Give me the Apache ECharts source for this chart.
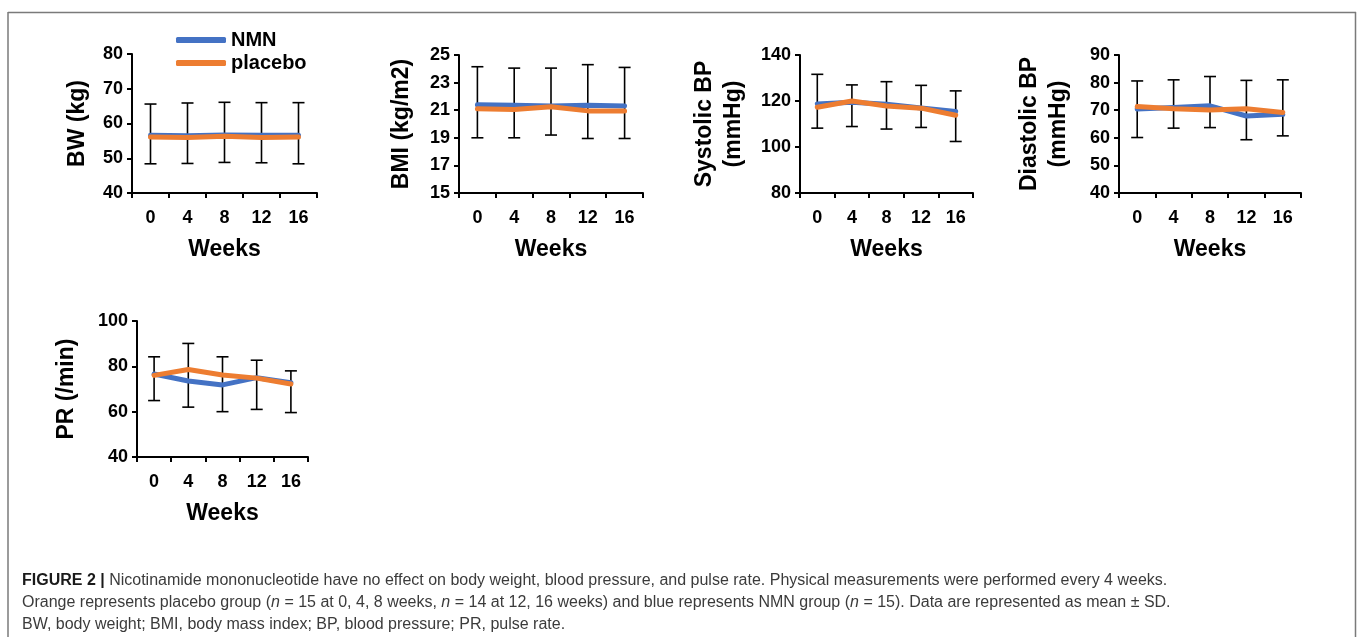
<!DOCTYPE html>
<html><head><meta charset="utf-8">
<script src="https://cdn.jsdelivr.net/npm/echarts@6/dist/echarts.min.js"></script>
<style>html,body{margin:0;padding:0;background:#fff}#c{width:1357px;height:637px}</style>
</head><body><div id="c"></div>
<script>
// ---------- data ----------
const weeks = ['0', '4', '8', '12', '16'];
const groupNames = ['NMN', 'placebo'];

const bwNMN = [56.6, 56.5, 56.7, 56.6, 56.6];
const bwPlacebo = [56.1, 56.0, 56.3, 56.0, 56.1];
const bwLow = [48.4, 48.5, 48.8, 48.7, 48.4];
const bwHigh = [65.6, 65.9, 66.1, 66.0, 66.0];
const bwTicks = [40, 50, 60, 70, 80];

const bmiNMN = [21.4, 21.35, 21.3, 21.35, 21.3];
const bmiPlacebo = [21.1, 21.05, 21.25, 20.95, 20.95];
const bmiLow = [19.0, 19.0, 19.2, 18.95, 18.95];
const bmiHigh = [24.15, 24.05, 24.05, 24.3, 24.1];
const bmiTicks = [15, 17, 19, 21, 23, 25];

const sbpNMN = [118.7, 119.5, 118.6, 117.0, 115.4];
const sbpPlacebo = [117.3, 120.0, 117.8, 116.9, 113.8];
const sbpLow = [108.2, 108.9, 107.8, 108.5, 102.4];
const sbpHigh = [131.6, 127.0, 128.4, 126.8, 124.4];
const sbpTicks = [80, 100, 120, 140];

const dbpNMN = [70.4, 71.0, 71.6, 67.9, 68.5];
const dbpPlacebo = [71.3, 70.5, 70.1, 70.5, 69.2];
const dbpLow = [60.1, 63.5, 63.7, 59.3, 60.7];
const dbpHigh = [80.6, 81.0, 82.2, 80.8, 81.0];
const dbpTicks = [40, 50, 60, 70, 80, 90];

const prNMN = [76.6, 73.5, 71.8, 75.0, 72.8];
const prPlacebo = [76.0, 78.6, 76.2, 74.8, 72.2];
const prLow = [64.9, 62.0, 60.0, 61.0, 59.6];
const prHigh = [84.2, 90.1, 84.2, 82.7, 78.0];
const prTicks = [40, 60, 80, 100];

const yTitles = ['BW (kg)', 'BMI (kg/m2)', 'Systolic BP\n(mmHg)', 'Diastolic BP\n(mmHg)', 'PR (/min)'];
const xTitle = 'Weeks';

const captionLines = [
  '{b|FIGURE 2 |} Nicotinamide mononucleotide have no effect on body weight, blood pressure, and pulse rate. Physical measurements were performed every 4 weeks.',
  'Orange represents placebo group ({i|n} = 15 at 0, 4, 8 weeks, {i|n} = 14 at 12, 16 weeks) and blue represents NMN group ({i|n} = 15). Data are represented as mean \u00b1 SD.',
  'BW, body weight; BMI, body mass index; BP, blood pressure; PR, pulse rate.'
];

// ---------- layout ----------
const FONT = '"Liberation Sans", Arial, sans-serif';
const panels = [
  {nmn: bwNMN, pla: bwPlacebo, lo: bwLow, hi: bwHigh, ticks: bwTicks, grid: {left: 132, top: 54, width: 185, height: 139}, nameGap: 40},
  {nmn: bmiNMN, pla: bmiPlacebo, lo: bmiLow, hi: bmiHigh, ticks: bmiTicks, grid: {left: 459, top: 55, width: 184, height: 138}, nameGap: 43},
  {nmn: sbpNMN, pla: sbpPlacebo, lo: sbpLow, hi: sbpHigh, ticks: sbpTicks, grid: {left: 800, top: 55, width: 173, height: 138}, nameGap: 52},
  {nmn: dbpNMN, pla: dbpPlacebo, lo: dbpLow, hi: dbpHigh, ticks: dbpTicks, grid: {left: 1119, top: 55, width: 182, height: 138}, nameGap: 46},
  {nmn: prNMN, pla: prPlacebo, lo: prLow, hi: prHigh, ticks: prTicks, grid: {left: 137, top: 321, width: 171, height: 136}, nameGap: 56}
];

const colors = ['#4472C4', '#ED7D31'];
const grids = [], xAxes = [], yAxes = [], series = [];

function errorBar(params, api) {
  const i = api.value(0);
  const pHi = api.coord([i, api.value(2)]);
  const pLo = api.coord([i, api.value(1)]);
  const w = 6;
  const st = {stroke: '#000', lineWidth: 1.6};
  return {type: 'group', children: [
    {type: 'line', shape: {x1: pHi[0], y1: pHi[1], x2: pLo[0], y2: pLo[1]}, style: st},
    {type: 'line', shape: {x1: pHi[0] - w, y1: pHi[1], x2: pHi[0] + w, y2: pHi[1]}, style: st},
    {type: 'line', shape: {x1: pLo[0] - w, y1: pLo[1], x2: pLo[0] + w, y2: pLo[1]}, style: st}
  ]};
}

panels.forEach((p, k) => {
  grids.push(Object.assign({containLabel: false}, p.grid));
  const axisLine = {show: true, lineStyle: {color: '#000', width: 2}};
  xAxes.push({
    type: 'category', gridIndex: k, data: weeks, boundaryGap: true,
    axisLine: axisLine,
    axisTick: {show: true, length: 5, inside: false, lineStyle: {color: '#000', width: 2}},
    axisLabel: {color: '#000', fontSize: 18, fontWeight: 'bold', fontFamily: FONT, margin: 16},
    name: xTitle, nameLocation: 'middle', nameGap: 45,
    nameTextStyle: {color: '#000', fontSize: 23, fontWeight: 'bold', fontFamily: FONT}
  });
  yAxes.push({
    type: 'value', gridIndex: k,
    min: p.ticks[0], max: p.ticks[p.ticks.length - 1],
    splitLine: {show: false},
    axisLine: axisLine,
    axisTick: {show: true, length: 5, customValues: p.ticks, lineStyle: {color: '#000', width: 2}},
    axisLabel: {color: '#000', fontSize: 18, fontWeight: 'bold', fontFamily: FONT, margin: 9, customValues: p.ticks},
    name: yTitles[k], nameLocation: 'middle', nameRotate: 90, nameGap: p.nameGap,
    nameTextStyle: {color: '#000', fontSize: 23, fontWeight: 'bold', fontFamily: FONT, lineHeight: 29, align: 'center'}
  });
  series.push({
    type: 'custom', xAxisIndex: k, yAxisIndex: k, renderItem: errorBar, z: 1, silent: true,
    encode: {x: 0, y: [1, 2]},
    data: weeks.map((w, i) => [i, p.lo[i], p.hi[i]])
  });
  [p.nmn, p.pla].forEach((vals, s) => {
    series.push({
      type: 'line', name: groupNames[s], xAxisIndex: k, yAxisIndex: k,
      data: vals, showSymbol: false, symbol: 'none', z: 2 + s,
      lineStyle: {color: colors[s], width: 5, cap: 'round', join: 'round'},
      itemStyle: {color: colors[s]}
    });
  });
});

const frameStyle = {stroke: '#7a7a7a', lineWidth: 1.5};
const graphic = [
  {type: 'line', shape: {x1: 8, y1: 12.5, x2: 1356, y2: 12.5}, style: frameStyle},
  {type: 'line', shape: {x1: 8, y1: 12, x2: 8, y2: 637}, style: frameStyle},
  {type: 'line', shape: {x1: 1355.5, y1: 12, x2: 1355.5, y2: 637}, style: frameStyle}
];
const capY = [582, 604, 626];
captionLines.forEach((t, i) => {
  graphic.push({
    type: 'text', left: 22, top: capY[i] - 9,
    style: {
      text: t, fill: '#3b3b3b', font: '16px "Liberation Sans", Arial, sans-serif',
      rich: {
        b: {fontWeight: 'bold', fontSize: 16, fill: '#1a1a1a', fontFamily: FONT},
        i: {fontStyle: 'italic', fontSize: 16, fill: '#3b3b3b', fontFamily: FONT}
      }
    }
  });
});

const chart = echarts.init(document.getElementById('c'), null, {renderer: 'canvas'});
chart.setOption({
  animation: false,
  backgroundColor: '#fff',
  color: colors,
  legend: {
    data: groupNames, orient: 'vertical', left: 171, top: 25,
    icon: 'roundRect', itemWidth: 50, itemHeight: 6, itemGap: 3,
    textStyle: {color: '#000', fontSize: 20, fontWeight: 'bold', fontFamily: FONT, padding: [0, 0, 0, 0]}
  },
  grid: grids, xAxis: xAxes, yAxis: yAxes, series: series, graphic: graphic
});
</script>
</body></html>
